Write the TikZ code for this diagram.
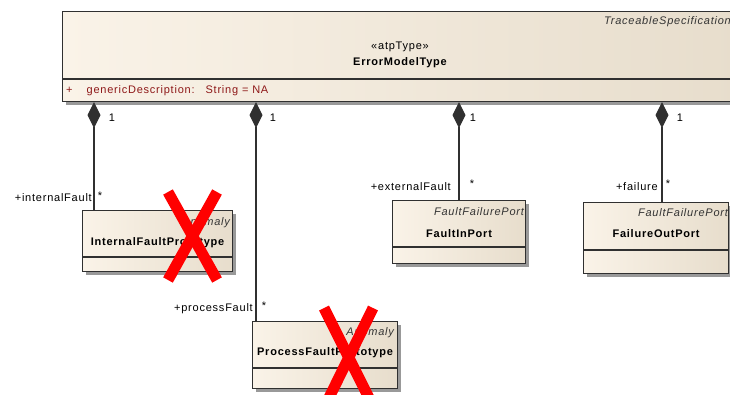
\documentclass[tikz,border=0pt]{standalone}
\usepackage{fontspec}
\setmainfont{Liberation Sans}[LetterSpace=7]
\usetikzlibrary{arrows.meta,shadows}

\definecolor{clsleft}{HTML}{FAF3E8}
\definecolor{clsright}{HTML}{E7DDCC}
\definecolor{attrred}{HTML}{8E1818}
\definecolor{edgegray}{HTML}{303030}

\begin{document}
\begin{tikzpicture}[x=1pt, y=-1pt, font=\fontsize{11}{12}\selectfont,
    cls/.style = {draw=edgegray, line width=1.1pt, left color=clsleft, right color=clsright, anchor=north west, inner sep=0pt,
                  drop shadow={shadow xshift=3pt, shadow yshift=-3pt, fill=black!40, opacity=1}},
    sepline/.style = {draw=edgegray, line width=1.1pt},
    stereo/.style = {font=\fontsize{11}{12}\selectfont\itshape, text=black!80, anchor=east, inner sep=0pt},
    title/.style = {font=\fontsize{11}{12}\selectfont\bfseries, inner sep=0pt},
    comp/.style = {draw=edgegray, line width=1.2pt, {Diamond[length=26pt, width=13pt]}-},
    role/.style = {anchor=east, inner sep=0pt},
    mult/.style = {inner sep=0pt},
    cross/.style = {red, line width=11pt}]
    \useasboundingbox (0,0) rectangle (730,394);
    \clip (0,0) rectangle (730,394);

    % owner class
    \node[cls, minimum width=676pt, minimum height=90pt] (emt) at (62,11) {};
    \draw[sepline] ([yshift=-68pt]emt.north west) -- ([yshift=-68pt]emt.north east);
    \node[stereo, anchor=west] (emt-st) at (604,22) {TraceableSpecification};
    \node[inner sep=0pt] (emt-kw) at (400,47) {«atpType»};
    \node[title] (emt-nm) at (400,63) {ErrorModelType};
    \node[anchor=west, inner sep=0pt, text=attrred] (emt-at) at (66,91) {+\hspace{14pt}genericDescription:\hspace{11pt}String = NA};

    % part classes
    \node[cls, minimum width=150pt, minimum height=61pt] (ifp) at (82,210) {};
    \draw[sepline] ([yshift=-47pt]ifp.north west) -- ([yshift=-47pt]ifp.north east);
    \node[stereo] (ifp-st) at ([xshift=-3pt, yshift=-13pt]ifp.north east) {Anomaly};
    \node[title] (ifp-nm) at ([yshift=-33pt]ifp.north) {InternalFaultPrototype};

    \node[cls, minimum width=145pt, minimum height=67pt] (pfp) at (252,321) {};
    \draw[sepline] ([yshift=-47pt]pfp.north west) -- ([yshift=-47pt]pfp.north east);
    \node[stereo] (pfp-st) at ([xshift=-4pt, yshift=-12pt]pfp.north east) {Anomaly};
    \node[title] (pfp-nm) at ([yshift=-32pt]pfp.north) {ProcessFaultPrototype};

    \node[cls, minimum width=133pt, minimum height=63pt] (fip) at (392,200) {};
    \draw[sepline] ([yshift=-47pt]fip.north west) -- ([yshift=-47pt]fip.north east);
    \node[stereo] (fip-st) at ([xshift=-2pt, yshift=-12pt]fip.north east) {FaultFailurePort};
    \node[title] (fip-nm) at ([yshift=-34pt]fip.north) {FaultInPort};

    \node[cls, minimum width=145pt, minimum height=71pt] (fop) at (583,202) {};
    \draw[sepline] ([yshift=-48pt]fop.north west) -- ([yshift=-48pt]fop.north east);
    \node[stereo] (fop-st) at ([xshift=-1pt, yshift=-11pt]fop.north east) {FaultFailurePort};
    \node[title] (fop-nm) at ([yshift=-32pt]fop.north) {FailureOutPort};

    % compositions
    \draw[comp] (emt.south -| 94,0) -- (ifp.north -| 94,0);
    \draw[comp] (emt.south -| 256,0) -- (pfp.north -| 256,0);
    \draw[comp] (emt.south -| 459,0) -- (fip.north -| 459,0);
    \draw[comp] (emt.south -| 662,0) -- (fop.north -| 662,0);

    \node[mult] (m1) at (112,118) {1};
    \node[mult] (m2) at (273,118) {1};
    \node[mult] (m3) at (473,118) {1};
    \node[mult] (m4) at (680,118) {1};

    \node[role] (r1) at (92,198) {+internalFault};
    \node[mult] (s1) at (100,196) {*};
    \node[role] (r2) at (253,309) {+processFault};
    \node[mult] (s2) at (264,306) {*};
    \node[role] (r3) at (451,187) {+externalFault};
    \node[mult] (s3) at (472,184) {*};
    \node[role] (r4) at (658,187) {+failure};
    \node[mult] (s4) at (668,184) {*};

    % removed parts
    \draw[cross] (168,192) -- (217,280);
    \draw[cross] (217,192) -- (168,280);
    \draw[cross] (324,308) -- (374,408);
    \draw[cross] (373,308) -- (324,408);
\end{tikzpicture}
\end{document}
